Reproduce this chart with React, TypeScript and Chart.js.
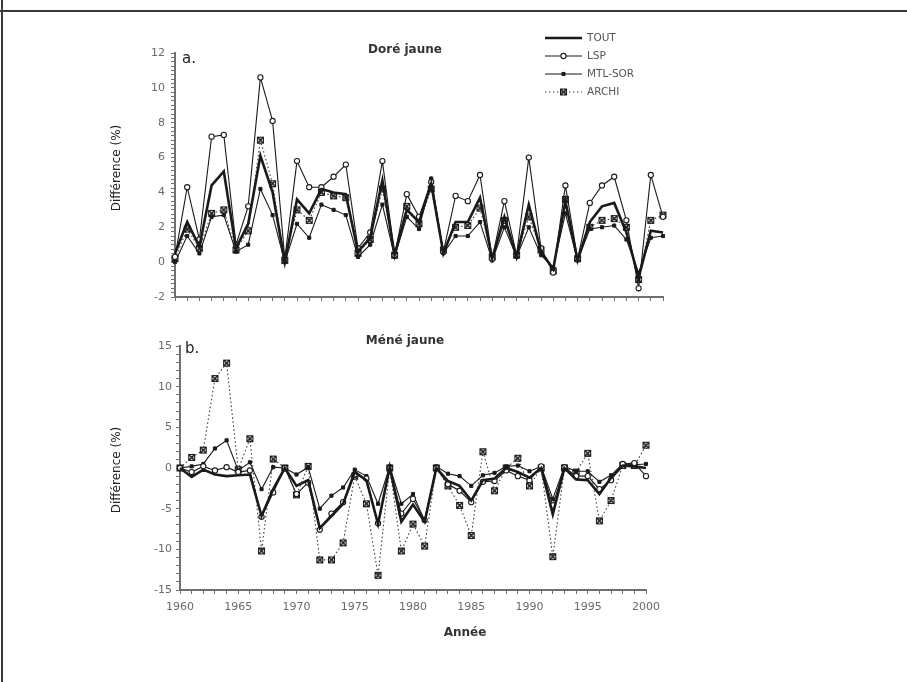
import React, { useEffect, useRef } from "react";
import { Chart, registerables } from "chart.js";
import { drawPoint } from "chart.js/helpers";

Chart.register(...registerables);

const FONT = "'DejaVu Sans', 'Liberation Sans', sans-serif";
const INK = "#1a1a1a";
const AXIS = "#707070";
const LABEL = "#6a6a6a";

// Categories (years)
const years = [
  1960, 1961, 1962, 1963, 1964, 1965, 1966, 1967, 1968, 1969,
  1970, 1971, 1972, 1973, 1974, 1975, 1976, 1977, 1978, 1979,
  1980, 1981, 1982, 1983, 1984, 1985, 1986, 1987, 1988, 1989,
  1990, 1991, 1992, 1993, 1994, 1995, 1996, 1997, 1998, 1999, 2000,
];

const seriesNames = ["TOUT", "LSP", "MTL-SOR", "ARCHI"];

// a. Doré jaune
const doreTout = [0.5, 2.3, 0.9, 4.4, 5.2, 0.8, 2.2, 6.1, 4.0, 0.0, 3.6, 2.8, 4.2, 4.0, 3.9, 0.6, 1.4, 4.7, 0.4, 3.0, 2.3, 4.5, 0.5, 2.3, 2.3, 3.7, 0.2, 2.6, 0.3, 3.3, 0.6, -0.4, 3.5, 0.1, 2.3, 3.2, 3.4, 1.7, -0.9, 1.8, 1.7];
const doreLSP = [0.3, 4.3, 1.3, 7.2, 7.3, 1.0, 3.2, 10.6, 8.1, 0.2, 5.8, 4.3, 4.3, 4.9, 5.6, 0.8, 1.7, 5.8, 0.4, 3.9, 2.6, 4.6, 0.6, 3.8, 3.5, 5.0, 0.2, 3.5, 0.4, 6.0, 0.8, -0.6, 4.4, 0.2, 3.4, 4.4, 4.9, 2.4, -1.5, 5.0, 2.6];
const doreMTL = [0.0, 1.5, 0.5, 2.6, 2.7, 0.6, 1.0, 4.2, 2.7, 0.0, 2.2, 1.4, 3.3, 3.0, 2.7, 0.3, 1.0, 3.3, 0.3, 2.6, 1.9, 4.8, 0.5, 1.5, 1.5, 2.3, 0.1, 2.0, 0.3, 2.0, 0.4, -0.3, 2.8, 0.1, 1.9, 2.0, 2.1, 1.3, -0.6, 1.4, 1.5];
const doreARCHI = [0.2, 1.9, 0.8, 2.8, 3.0, 0.7, 1.8, 7.0, 4.5, 0.1, 3.0, 2.4, 4.0, 3.8, 3.7, 0.5, 1.3, 4.2, 0.4, 3.2, 2.2, 4.2, 0.7, 2.0, 2.1, 3.1, 0.3, 2.4, 0.4, 2.6, 0.7, -0.5, 3.6, 0.2, 2.0, 2.4, 2.5, 2.0, -1.0, 2.4, 2.7];

// b. Méné jaune
const meneTout = [0, -1.1, -0.2, -0.8, -1.0, -0.9, -0.8, -5.9, -2.6, 0, -2.2, -1.5, -7.4, -5.9, -4.4, -0.5, -1.5, -6.9, 0.1, -6.6, -4.5, -6.6, 0, -1.6, -2.2, -4.0, -1.5, -1.3, 0, -0.5, -1.2, 0, -5.7, 0, -1.4, -1.5, -3.2, -1.2, 0.3, 0.2, 0];
const meneLSP = [0, -0.5, 0.2, -0.3, 0.1, -0.5, -0.3, -6.0, -3.0, 0, -3.2, -1.8, -7.6, -5.6, -4.2, -0.8, -1.3, -6.8, 0, -5.6, -3.8, -6.4, 0, -2.0, -2.8, -4.2, -1.7, -1.6, -0.3, -1.0, -1.5, 0.2, -4.6, 0.1, -1.0, -1.0, -2.6, -1.5, 0.5, 0.6, -1.0];
const meneMTL = [0, 0.2, 0.5, 2.4, 3.4, -0.3, 0.7, -2.6, 0.1, 0, -0.8, 0.1, -5.0, -3.4, -2.4, -0.2, -1.0, -4.4, 0.2, -4.4, -3.2, -6.5, 0.2, -0.7, -1.0, -2.2, -0.9, -0.6, 0.2, 0.3, -0.4, 0.2, -3.8, 0.2, -0.4, -0.4, -1.7, -0.9, 0.5, 0.4, 0.5];
const meneARCHI = [0, 1.3, 2.2, 11.0, 12.9, -0.2, 3.6, -10.2, 1.1, 0, -3.3, 0.2, -11.3, -11.3, -9.2, -1.0, -4.4, -13.2, 0, -10.2, -6.9, -9.6, 0, -2.2, -4.6, -8.3, 2.0, -2.8, 0, 1.2, -2.2, 0, -10.9, 0, -0.5, 1.8, -6.5, -4.0, 0.3, 0.3, 2.8];

// Axis tick settings
const doreYTicks = { min: -2, max: 12, step: 0.25, labelEvery: 2 };
const meneYTicks = { min: -15, max: 15, step: 1, labelEvery: 5 };
const xLabelEvery = 5;

// "x in a box" marker used for ARCHI
function makeBoxCross(): HTMLCanvasElement | string {
  if (typeof document === "undefined") return "crossRot";
  const c = document.createElement("canvas");
  c.width = 9;
  c.height = 9;
  const g = c.getContext("2d");
  if (!g) return "crossRot";
  g.strokeStyle = INK;
  g.lineWidth = 1;
  g.strokeRect(1.5, 1.5, 6, 6);
  g.lineWidth = 1.6;
  g.beginPath();
  g.moveTo(1.5, 1.5); g.lineTo(7.5, 7.5);
  g.moveTo(7.5, 1.5); g.lineTo(1.5, 7.5);
  g.stroke();
  return c;
}
const boxCross = makeBoxCross();

function buildDatasets(tout: number[], lsp: number[], mtl: number[], archi: number[]) {
  const pts = (arr: number[]) => arr.map((v, i) => ({ x: years[i], y: v }));
  return [
    {
      label: seriesNames[0], data: pts(tout), borderColor: INK, borderWidth: 2.6,
      pointRadius: 0, pointHoverRadius: 0, tension: 0, clip: false,
    },
    {
      label: seriesNames[1], data: pts(lsp), borderColor: INK, borderWidth: 1.1,
      pointStyle: "circle", pointRadius: 2.6, pointBackgroundColor: "#ffffff",
      pointBorderColor: INK, pointBorderWidth: 1.1, tension: 0, clip: false,
    },
    {
      label: seriesNames[2], data: pts(mtl), borderColor: INK, borderWidth: 1.1,
      pointStyle: "rect", pointRadius: 2.2, pointBackgroundColor: INK,
      pointBorderColor: INK, pointBorderWidth: 1, tension: 0, clip: false,
    },
    {
      label: seriesNames[3], data: pts(archi), borderColor: "#3a3a3a", borderWidth: 1.1,
      borderDash: [1.5, 2.5], pointStyle: boxCross, pointRadius: 4,
      pointBorderColor: INK, pointBorderWidth: 1.4, tension: 0, clip: false,
    },
  ];
}

type TextItem = { text: string; x: number; y: number; size: number; bold?: boolean; align?: CanvasTextAlign; rotate?: boolean; color?: string };

const overlayPlugin = {
  id: "overlay",
  afterDraw(chart: any, _args: any, opts: any) {
    const ctx: CanvasRenderingContext2D = chart.ctx;
    const top = opts.top || 0;
    ctx.save();
    for (const t of (opts.texts || []) as TextItem[]) {
      ctx.save();
      ctx.font = `${t.bold ? "bold " : ""}${t.size}px ${FONT}`;
      ctx.fillStyle = t.color || "#222";
      ctx.textAlign = t.align || "center";
      ctx.textBaseline = "middle";
      ctx.translate(t.x, t.y - top);
      if (t.rotate) ctx.rotate(-Math.PI / 2);
      ctx.fillText(t.text, 0, 0);
      ctx.restore();
    }
    if (opts.legend) {
      const L = opts.legend;
      chart.data.datasets.forEach((ds: any, i: number) => {
        const y = L.y0 + i * L.dy - top;
        ctx.save();
        ctx.strokeStyle = ds.borderColor;
        ctx.lineWidth = ds.borderWidth;
        ctx.setLineDash(ds.borderDash || []);
        ctx.beginPath();
        ctx.moveTo(L.x1, y);
        ctx.lineTo(L.x2, y);
        ctx.stroke();
        ctx.setLineDash([]);
        if (ds.pointRadius > 0) {
          ctx.fillStyle = ds.pointBackgroundColor || INK;
          ctx.strokeStyle = ds.pointBorderColor || INK;
          ctx.lineWidth = ds.pointBorderWidth || 1;
          drawPoint(ctx, { pointStyle: ds.pointStyle, radius: ds.pointRadius, borderWidth: ds.pointBorderWidth, rotation: 0 } as any, (L.x1 + L.x2) / 2, y);
        }
        ctx.font = `${L.size}px ${FONT}`;
        ctx.fillStyle = "#555";
        ctx.textAlign = "left";
        ctx.textBaseline = "middle";
        ctx.fillText(ds.label, L.tx, y);
        ctx.restore();
      });
    }
    ctx.restore();
  },
};

type PanelProps = {
  left: number; top: number; width: number; height: number;
  padding: { top: number; right: number; bottom: number; left: number };
  yWidth: number; xHeight: number;
  yTicks: { min: number; max: number; step: number; labelEvery: number };
  yLabelPad: number;
  xMax: number;
  showXLabels: boolean;
  datasets: any[];
  texts: TextItem[];
  legend?: any;
};

function Panel(p: PanelProps) {
  const ref = useRef<HTMLCanvasElement>(null);
  useEffect(() => {
    if (!ref.current) return;
    const near = (v: number, m: number) => Math.abs(v / m - Math.round(v / m)) < 1e-6;
    const chart = new Chart(ref.current, {
      type: "line",
      data: { datasets: p.datasets },
      plugins: [overlayPlugin],
      options: {
        animation: false,
        responsive: false,
        maintainAspectRatio: false,
        events: [],
        layout: { padding: p.padding },
        plugins: {
          legend: { display: false },
          tooltip: { enabled: false },
          overlay: { texts: p.texts, legend: p.legend, top: p.top },
        } as any,
        scales: {
          x: {
            type: "linear",
            min: 1960,
            max: p.xMax,
            ticks: {
              stepSize: 1,
              autoSkip: false,
              maxRotation: 0,
              minRotation: 0,
              padding: 7,
              color: LABEL,
              font: { family: FONT, size: 11 },
              callback: (v: any) => (p.showXLabels && near(Number(v), xLabelEvery) ? String(v) : ""),
            },
            grid: { drawOnChartArea: false, drawTicks: true, tickLength: 4, color: AXIS, lineWidth: 1 },
            border: { display: true, color: AXIS, width: 2 },
            afterFit: (s: any) => {
              s.height = p.xHeight;
              s.paddingLeft = 0;
              s.paddingRight = 0;
            },
          },
          y: {
            type: "linear",
            min: p.yTicks.min,
            max: p.yTicks.max,
            ticks: {
              stepSize: p.yTicks.step,
              autoSkip: false,
              padding: p.yLabelPad,
              color: LABEL,
              font: { family: FONT, size: 11 },
              callback: (v: any) => (near(Number(v), p.yTicks.labelEvery) ? String(Math.round(Number(v))) : ""),
            },
            grid: { drawOnChartArea: false, drawTicks: true, tickLength: 4, color: AXIS, lineWidth: 1 },
            border: { display: true, color: AXIS, width: 2 },
            afterFit: (s: any) => {
              s.width = p.yWidth;
              s.paddingTop = 0;
              s.paddingBottom = 0;
            },
          },
        },
      } as any,
    });
    return () => chart.destroy();
  }, []);
  return (
    <canvas
      ref={ref}
      width={p.width}
      height={p.height}
      style={{ position: "absolute", left: p.left, top: p.top, width: p.width, height: p.height }}
    />
  );
}

export default function App() {
  return (
    <div style={{ position: "absolute", left: 0, top: 0, width: 907, height: 682, background: "#fff", overflow: "hidden" }}>
      <div style={{ position: "absolute", left: 0, top: 10, width: 907, height: 2, background: "#3a3a3a" }} />
      <div style={{ position: "absolute", left: 1, top: 0, width: 2, height: 682, background: "#3a3a3a" }} />
      <Panel
        left={0} top={20} width={907} height={295}
        padding={{ top: 33, right: 244, bottom: 10, left: 0 }}
        yWidth={175} xHeight={8}
        yTicks={doreYTicks} yLabelPad={6}
        xMax={2000}
        showXLabels={false}
        datasets={buildDatasets(doreTout, doreLSP, doreMTL, doreARCHI)}
        texts={[
          { text: "a.", x: 182, y: 59, size: 15, align: "left" },
          { text: "Doré jaune", x: 405, y: 50, size: 12, bold: true, color: "#333" },
          { text: "Différence (%)", x: 117, y: 168, size: 12, rotate: true },
        ]}
        legend={{ x1: 545, x2: 582, tx: 587, y0: 38, dy: 18, size: 10.5 }}
      />
      <Panel
        left={0} top={315} width={907} height={367}
        padding={{ top: 31, right: 261, bottom: 62, left: 0 }}
        yWidth={180} xHeight={30}
        yTicks={meneYTicks} yLabelPad={4}
        xMax={2000}
        showXLabels={true}
        datasets={buildDatasets(meneTout, meneLSP, meneMTL, meneARCHI)}
        texts={[
          { text: "b.", x: 185, y: 349, size: 15, align: "left" },
          { text: "Méné jaune", x: 405, y: 341, size: 12, bold: true, color: "#333" },
          { text: "Différence (%)", x: 117, y: 470, size: 12, rotate: true },
          { text: "Année", x: 465, y: 633, size: 12, bold: true, color: "#333" },
        ]}
      />
    </div>
  );
}
